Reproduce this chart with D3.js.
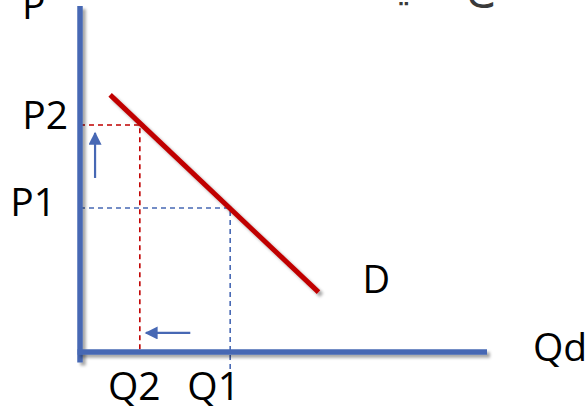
<!DOCTYPE html>
<html>
<head>
<meta charset="utf-8">
<script src="https://cdn.jsdelivr.net/npm/d3@7/dist/d3.min.js"></script>
<style>
  html, body { margin: 0; padding: 0; background: #ffffff; }
  svg { display: block; }
  text { font-family: "Open Sans", "Liberation Sans", sans-serif; fill: #000; }
</style>
</head>
<body>
<svg id="chart" width="588" height="409"></svg>
<script>
// ---- data (conceptual units) ----
const axisMaxQ = 10;
const axisMaxP = 10;
const priceLabels = ["P1", "P2"];
const priceValues = [4.16, 6.56];
const quantityLabels = ["Q1", "Q2"];
const quantityValues = [3.69, 1.47];
const demandQ = [0.74, 5.86];
const demandP = [7.43, 1.73];
const demandLabel = "D";
const xTitle = "Qd";
const yTitle = "P";
const priceArrowP = [5.03, 6.33];   // from, to
const priceArrowQ = 0.37;
const qtyArrowQ = [2.71, 1.62];     // from, to
const qtyArrowP = 0.55;
const titleParts = ["ج", "يـ"];

// ---- layout ----
const W = 588, H = 409;
const x = d3.scaleLinear().domain([0, axisMaxQ]).range([80, 487]);
const y = d3.scaleLinear().domain([0, axisMaxP]).range([352, 6]);

const svg = d3.select("#chart");
const defs = svg.append("defs");
const sh = defs.append("filter").attr("id", "shadow")
  .attr("filterUnits", "userSpaceOnUse")
  .attr("x", 0).attr("y", 0).attr("width", W).attr("height", H);
sh.append("feDropShadow").attr("dx", 3).attr("dy", 3).attr("stdDeviation", 1.6)
  .attr("flood-color", "#000").attr("flood-opacity", 0.35);

const blue = "#4768b4";
const red = "#c00000";

defs.append("marker").attr("id", "arrowBlue")
  .attr("viewBox", "0 0 10 10").attr("refX", 9).attr("refY", 5)
  .attr("markerUnits", "userSpaceOnUse")
  .attr("markerWidth", 14).attr("markerHeight", 13)
  .attr("orient", "auto")
  .append("path").attr("d", "M0,0 L10,5 L0,10 Z").attr("fill", blue);

// Title (cut off at top, as in the reference)
svg.append("text").attr("x", 479).attr("y", -3)
  .attr("text-anchor", "middle")
  .style("font-family", "DejaVu Sans").style("font-size", "44px").style("fill", "#3a3a3a")
  .text(titleParts[0]);
svg.append("text").attr("x", 397).attr("y", -1)
  .attr("text-anchor", "middle")
  .style("font-family", "DejaVu Sans").style("font-size", "44px").style("fill", "#3a3a3a")
  .text(titleParts[1]);

// y title
svg.append("text").attr("x", 22).attr("y", 19)
  .style("font-size", "39px").text(yTitle);

// dashed guide lines
const p2Path = [[0, priceValues[1]], [quantityValues[1], priceValues[1]], [quantityValues[1], 0]];
svg.append("path")
  .attr("d", d3.line().x(d => x(d[0])).y(d => y(d[1]))(p2Path))
  .attr("fill", "none").attr("stroke", red).attr("stroke-width", 1.6)
  .attr("stroke-dasharray", "5,4");
const p1Path = [[0, priceValues[0]], [quantityValues[0], priceValues[0]], [quantityValues[0], -0.52]];
svg.append("path")
  .attr("d", d3.line().x(d => x(d[0])).y(d => y(d[1]))(p1Path))
  .attr("fill", "none").attr("stroke", blue).attr("stroke-width", 1.6)
  .attr("stroke-dasharray", "5,4");

// axes lines
svg.append("line")
  .attr("x1", x(0)).attr("x2", x(0)).attr("y1", y(axisMaxP)).attr("y2", y(-0.3))
  .attr("stroke", blue).attr("stroke-width", 5.5).attr("filter", "url(#shadow)");
svg.append("line")
  .attr("x1", x(0) - 2.5).attr("x2", x(axisMaxQ)).attr("y1", y(0)).attr("y2", y(0))
  .attr("stroke", blue).attr("stroke-width", 5.5).attr("filter", "url(#shadow)");

// demand curve
svg.append("line")
  .attr("x1", x(demandQ[0])).attr("y1", y(demandP[0]))
  .attr("x2", x(demandQ[1])).attr("y2", y(demandP[1]))
  .attr("stroke", red).attr("stroke-width", 5).attr("filter", "url(#shadow)");

// arrows
svg.append("line")
  .attr("x1", x(priceArrowQ)).attr("x2", x(priceArrowQ))
  .attr("y1", y(priceArrowP[0])).attr("y2", y(priceArrowP[1]))
  .attr("stroke", blue).attr("stroke-width", 2.2).attr("marker-end", "url(#arrowBlue)");
svg.append("line")
  .attr("x1", x(qtyArrowQ[0])).attr("x2", x(qtyArrowQ[1]))
  .attr("y1", y(qtyArrowP)).attr("y2", y(qtyArrowP))
  .attr("stroke", blue).attr("stroke-width", 2.2).attr("marker-end", "url(#arrowBlue)");

// price labels via axis
const yAxis = d3.axisLeft(y).tickValues(priceValues)
  .tickFormat((d, i) => priceLabels[i]).tickSize(0).tickPadding(12);
const gy = svg.append("g").attr("transform", `translate(${x(0)},0)`).call(yAxis);
gy.select(".domain").remove();
gy.selectAll("text")
  .attr("dx", (d, i) => i === 0 ? "-12px" : "0px")
  .attr("dy", (d, i) => i === 0 ? "0.2em" : "0.08em")
  .style("font-size", "39px")
  .style("font-family", "'Open Sans', sans-serif").attr("fill", "#000");

// quantity labels via axis
const xAxis = d3.axisBottom(x).tickValues(quantityValues)
  .tickFormat((d, i) => quantityLabels[i]).tickSize(0).tickPadding(20);
const gx = svg.append("g").attr("transform", `translate(0,${y(0)})`).call(xAxis);
gx.select(".domain").remove();
gx.selectAll("text")
  .attr("dx", (d, i) => i === 0 ? "-17px" : "-6px")
  .attr("dy", "0.71em").style("font-size", "39px")
  .style("font-family", "'Open Sans', sans-serif").attr("fill", "#000");

// demand label
svg.append("text").attr("x", x(demandQ[1]) + 44).attr("y", y(demandP[1]) + 1)
  .style("font-size", "38px").text(demandLabel);

// x title
svg.append("text").attr("x", 533).attr("y", 361)
  .style("font-size", "39px").text(xTitle);
</script>
</body>
</html>
